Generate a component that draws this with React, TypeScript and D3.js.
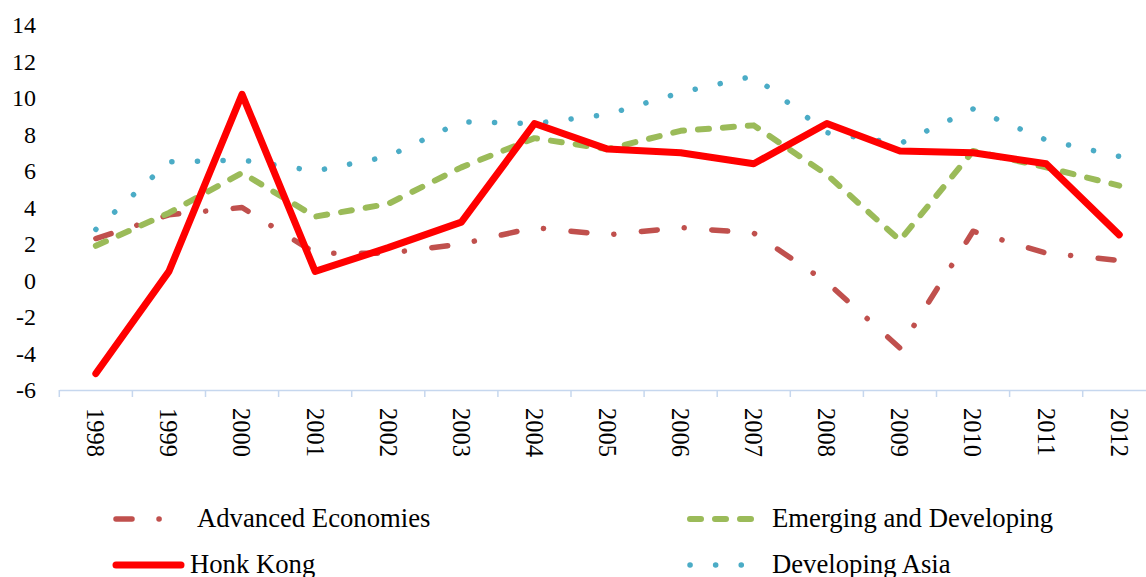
import React, { useRef, useEffect } from 'react';
import * as d3 from 'd3';

const years = ['1998', '1999', '2000', '2001', '2002', '2003', '2004', '2005', '2006', '2007', '2008', '2009', '2010', '2011', '2012'];
const advanced = [2.3, 3.6, 4.0, 1.5, 1.5, 2.0, 2.9, 2.5, 2.9, 2.6, -0.1, -3.7, 2.7, 1.5, 1.1];
const emerging = [1.9, 3.7, 5.9, 3.5, 4.2, 6.2, 7.8, 7.2, 8.2, 8.5, 5.8, 2.2, 7.1, 6.2, 5.2];
const hongKong = [-5.1, 0.5, 10.2, 0.5, 1.8, 3.2, 8.6, 7.2, 7.0, 6.4, 8.6, 7.1, 7.0, 6.4, 2.5];
const devAsia = [2.8, 6.5, 6.6, 6.0, 6.8, 8.7, 8.6, 9.1, 10.3, 11.2, 8.1, 7.5, 9.4, 7.7, 6.8];
const yTicks = [-6, -4, -2, 0, 2, 4, 6, 8, 10, 12, 14];

const W = 1146;
const H = 577;
const FONT = 'Liberation Serif';

// style per series (legend + line)
const series = [
  { name: 'Advanced Economies', values: advanced, color: '#c0504d', width: 5.5, dash: '16 27 0.1 27.6', legend: [116, 162, 519], textX: 197, textY: 527 },
  { name: 'Emerging and Developing', values: emerging, color: '#9bbb59', width: 6, dash: '11 14', legend: [690, 752, 519], textX: 772, textY: 527 },
  { name: 'Honk Kong', values: hongKong, color: '#ff0000', width: 7, dash: null, legend: [116, 181, 565], textX: 190, textY: 573 },
  { name: 'Developing Asia', values: devAsia, color: '#4bacc6', width: 5.5, dash: '0.1 25.5', legend: [690, 742, 565], textX: 772, textY: 573 },
];

const App = () => {
  const ref = useRef<SVGSVGElement>(null);

  useEffect(() => {
    document.body.style.margin = '0';
    const svg = d3.select(ref.current);
    svg.selectAll('*').remove();

    const x = d3.scaleBand<string>()
      .domain(years)
      .range([59.3, 59.3 + 73.1 * years.length]);

    const y = d3.scaleLinear()
      .domain([-6, 14])
      .range([390, 25]);

    // y tick labels (no axis line)
    svg.append('g')
      .selectAll('text')
      .data(yTicks)
      .join('text')
      .attr('x', 36)
      .attr('y', d => y(d))
      .attr('dy', '0.35em')
      .attr('text-anchor', 'end')
      .attr('font-family', FONT)
      .attr('font-size', 24)
      .attr('fill', '#000')
      .text(d => d);

    // x axis
    const xAxis = svg.append('g')
      .attr('transform', `translate(0,${y(-6)})`)
      .call(d3.axisBottom(x).tickSize(0).tickFormat(() => ''));
    xAxis.select('.domain').attr('stroke', '#c6d7ee').attr('stroke-width', 1.5);

    xAxis.selectAll('line.bnd')
      .data(years)
      .join('line')
      .attr('class', 'bnd')
      .attr('x1', d => x(d)!)
      .attr('x2', d => x(d)!)
      .attr('y1', 0)
      .attr('y2', 7)
      .attr('stroke', '#c6d7ee')
      .attr('stroke-width', 1.5);

    svg.append('g')
      .selectAll('text')
      .data(years)
      .join('text')
      .attr('transform', d => `translate(${x(d)! + x.bandwidth() / 2},408) rotate(90)`)
      .attr('dy', '0.35em')
      .attr('font-family', FONT)
      .attr('font-size', 24.5)
      .attr('fill', '#000')
      .text(d => d);

    const line = d3.line<number>()
      .x((_, i) => x(years[i])! + x.bandwidth() / 2)
      .y(d => y(d));

    const drawOrder = [0, 1, 3, 2];
    drawOrder.forEach(k => {
      const s = series[k];
      svg.append('path')
        .datum(s.values)
        .attr('fill', 'none')
        .attr('stroke', s.color)
        .attr('stroke-width', s.width)
        .attr('stroke-linecap', 'round')
        .attr('stroke-linejoin', 'round')
        .attr('stroke-dasharray', s.dash)
        .attr('d', line);
    });

    // legend
    series.forEach(s => {
      const [x1, x2, ly] = s.legend;
      svg.append('line')
        .attr('x1', x1).attr('x2', x2)
        .attr('y1', ly).attr('y2', ly)
        .attr('stroke', s.color)
        .attr('stroke-width', s.width)
        .attr('stroke-linecap', 'round')
        .attr('stroke-dasharray', s.dash);
      svg.append('text')
        .attr('x', s.textX)
        .attr('y', s.textY)
        .attr('font-family', FONT)
        .attr('font-size', 26.7)
        .attr('fill', '#000')
        .text(s.name);
    });
  }, []);

  return <svg ref={ref} width={W} height={H} style={{ display: 'block', background: '#fff' }}></svg>;
};

export default App;
